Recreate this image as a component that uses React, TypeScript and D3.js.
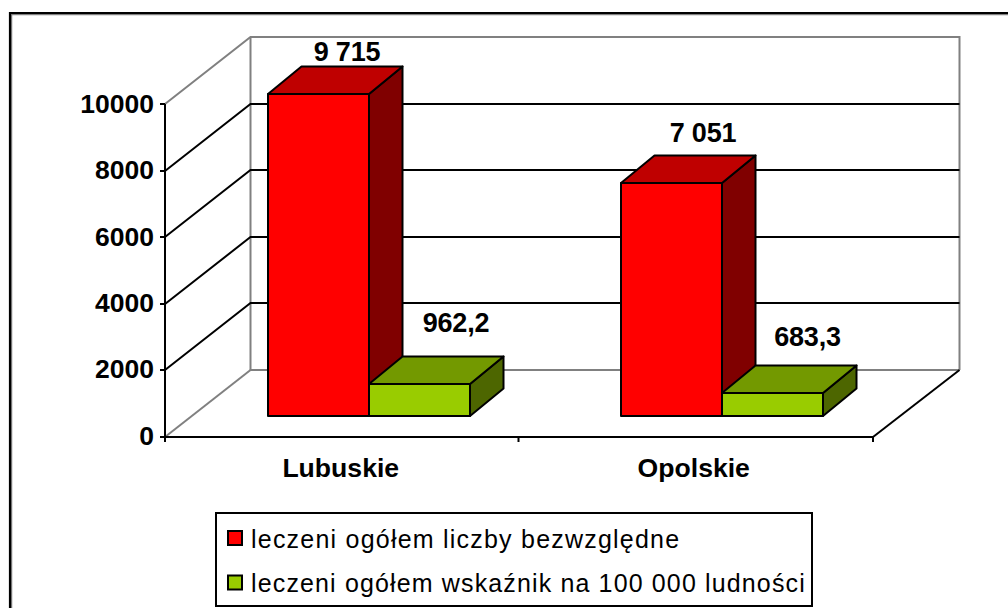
import React from "react";
import * as d3 from "d3";

const categories = ["Lubuskie", "Opolskie"];
const seriesNames = ["leczeni ogółem liczby bezwzględne", "leczeni ogółem wskaźnik na 100 000 ludności"];
const absolute = [9715, 7051];
const rate = [962.2, 683.3];
const absoluteLabels = ["9 715", "7 051"];
const rateLabels = ["962,2", "683,3"];
const yTicks = [0, 2000, 4000, 6000, 8000, 10000];

const FRONT_X0 = 165, FRONT_X1 = 873, FRONT_Y0 = 437;
const DX = 85.5, DY = -67;
const y = d3.scaleLinear().domain([0, 10000]).range([FRONT_Y0, 104]);
const yLabel = d3.scaleLinear().domain([0, 10000]).range([444.5, 113]);
const barH = d3.scaleLinear().domain([0, 10000]).range([0, 331]);
const cat = d3.scaleBand<string>().domain(categories).range([FRONT_X0, 872]);
const BAR_BASE_Y = 416, BAR_W = 101, BD = 33.5, BDY = -27.5;
const FONT = "'Liberation Sans', Arial, sans-serif";
const poly = (pts: number[][]) => pts.map((p) => p.join(",")).join(" ");
const gy = (t: number) => Math.round(y(t));
const barTop = (v: number) => Math.round(BAR_BASE_Y - barH(v));

function Bar({ x, v, front, top, side }: { x: number; v: number; front: string; top: string; side: string }) {
  const base = BAR_BASE_Y;
  const t = barTop(v);
  const r = x + BAR_W;
  return (
    <g stroke="#000" strokeWidth={2} strokeLinejoin="round">
      <polygon points={poly([[r, t], [r + BD, t + BDY], [r + BD, base + BDY], [r, base]])} fill={side} />
      <polygon points={poly([[x, t], [x + BD, t + BDY], [r + BD, t + BDY], [r, t]])} fill={top} />
      <rect x={x} y={t} width={BAR_W} height={base - t} fill={front} />
    </g>
  );
}

export default function App() {
  const back = FRONT_Y0 + DY;
  const backR = FRONT_X1 + DX + 1;
  return (
    <svg width={1008} height={608} style={{ position: "absolute", left: 0, top: 0, background: "#fff" }} fontFamily={FONT}>
      <rect x={0} y={0} width={1008} height={608} fill="#fff" />
      {/* outer frame */}
      <path d="M11.5,608 V14.5 H1008" fill="none" stroke="#808080" strokeWidth={1.5} />
      <path d="M10,608 V13 H1008" fill="none" stroke="#000" strokeWidth={2.2} />

      {/* walls */}
      <path d={`M${FRONT_X0},${gy(10000)} L${FRONT_X0 + DX},${gy(10000) + DY} H${backR} V${back}`} fill="none" stroke="#808080" strokeWidth={2} />
      <path d={`M${FRONT_X0 + DX},${gy(10000) + DY} V${back} H${backR}`} fill="none" stroke="#808080" strokeWidth={2} />
      <line x1={FRONT_X0} y1={FRONT_Y0} x2={FRONT_X0 + DX} y2={back} stroke="#808080" strokeWidth={2} />
      <line x1={FRONT_X1} y1={FRONT_Y0} x2={backR} y2={back} stroke="#000" strokeWidth={2} />

      {/* gridlines */}
      {yTicks.filter((t) => t > 0 && t < 10000).map((t) => (
        <path key={t} d={`M${FRONT_X0},${gy(t)} L${FRONT_X0 + DX},${gy(t) + DY} H${backR}`} fill="none" stroke="#000" strokeWidth={2} />
      ))}

      {/* axes */}
      <line x1={FRONT_X0} y1={gy(10000)} x2={FRONT_X0} y2={FRONT_Y0 + 1} stroke="#000" strokeWidth={2} />
      <line x1={FRONT_X0} y1={FRONT_Y0} x2={FRONT_X1} y2={FRONT_Y0} stroke="#000" strokeWidth={2} />
      {yTicks.map((t) => (
        <g key={t}>
          <line x1={FRONT_X0 - 5} x2={FRONT_X0} y1={gy(t)} y2={gy(t)} stroke="#000" strokeWidth={2} />
          <text x={154} y={yLabel(t)} textAnchor="end" fontSize={26.5} fontWeight="bold" fill="#000">{t}</text>
        </g>
      ))}
      {[...categories.map((c) => cat(c)!), FRONT_X1].map((x) => (
        <line key={x} x1={x} x2={x} y1={FRONT_Y0} y2={FRONT_Y0 + 5} stroke="#000" strokeWidth={2} />
      ))}
      {categories.map((c, i) => (
        <text key={c} x={cat(c)! + cat.bandwidth() / 2 - (i === 0 ? 1 : 1.5)} y={477} textAnchor="middle" fontSize={26.6} fontWeight="bold">{c}</text>
      ))}

      {/* bars */}
      {categories.map((c, i) => {
        const x0 = Math.round(cat(c)! + cat.bandwidth() / 2) - 74;
        return (
          <g key={c}>
            <Bar x={x0} v={absolute[i]} front="#ff0000" top="#bf0000" side="#800000" />
            <Bar x={x0 + BAR_W} v={rate[i]} front="#99cc00" top="#739900" side="#4d6600" />
            <text x={x0 + (i === 0 ? 79 : 82)} y={barTop(absolute[i]) - (i === 0 ? 33 : 41)} textAnchor="middle" fontSize={27} letterSpacing={-0.2} fontWeight="bold">{absoluteLabels[i]}</text>
            <text x={x0 + (i === 0 ? 188 : 186.5)} y={barTop(rate[i]) - (i === 0 ? 52 : 47)} textAnchor="middle" fontSize={27} letterSpacing={-0.2} fontWeight="bold">{rateLabels[i]}</text>
          </g>
        );
      })}

      {/* legend */}
      <rect x={216} y={513} width={596} height={93} fill="#fff" stroke="#000" strokeWidth={2} />
      {seriesNames.map((s, i) => (
        <g key={s}>
          <rect x={228} y={531 + i * 44.5} width={14} height={14} fill={i === 0 ? "#ff0000" : "#99cc00"} stroke="#000" strokeWidth={2} />
          <text x={251} y={548 + i * 44} fontSize={25} letterSpacing={i === 0 ? 1.22 : 1.14} fill="#000">{s}</text>
        </g>
      ))}
    </svg>
  );
}
